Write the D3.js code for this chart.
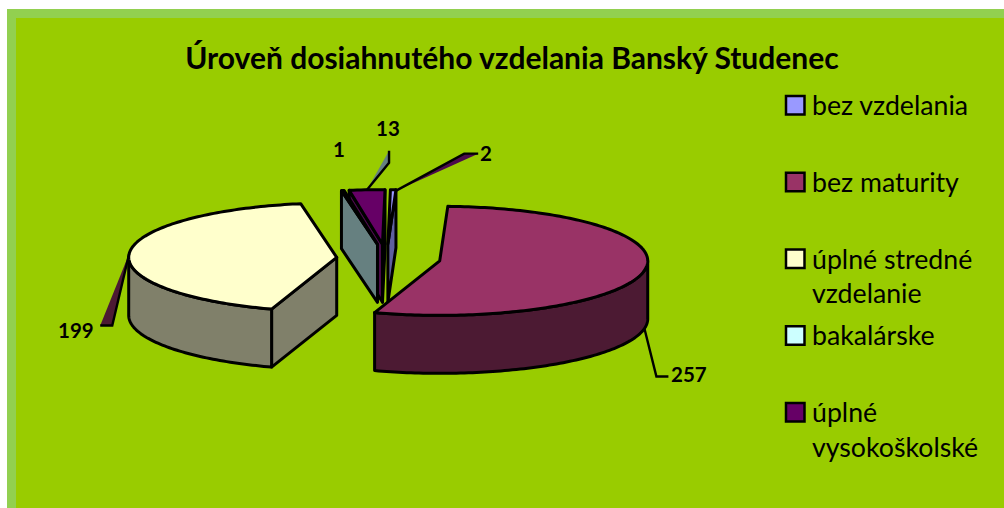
<!DOCTYPE html>
<html lang="sk">
<head>
    <meta charset="UTF-8">
    <title>Úroveň dosiahnutého vzdelania Banský Studenec</title>
    <script src="https://d3js.org/d3.v7.min.js"></script>
    <style>
        html, body { margin: 0; padding: 0; background: #fff; }
        svg { display: block; }
        text { font-family: Lato, "Open Sans", sans-serif; fill: #000; }
        .title { font-size: 30px; font-weight: 700; text-anchor: middle; }
        .legend-text { font-size: 26.7px; }
        .value { font-size: 20.5px; font-weight: 700; }
        .mark { stroke: #000; stroke-width: 3; stroke-linejoin: round; }
    </style>
</head>
<body>
    <div id="chart"></div>
    <script>
        // Data
        const title = "Úroveň dosiahnutého vzdelania Banský Studenec";
        const categories = ["bez vzdelania", "bez maturity", "úplné stredné vzdelanie", "bakalárske", "úplné vysokoškolské"];
        const values = [2, 257, 199, 1, 13];
        const topColors = ["#9999ff", "#993366", "#ffffcc", "#ccffff", "#660066"];
        const sideColors = ["#5f5f9f", "#4c1a33", "#80806a", "#668080", "#4c0a4c"];

        const width = 1004, height = 508;
        const center = { x: 386.5, y: 258.3 };
        const rx = 208, ry = 54.5, depth = 58;
        const explode = [0.26, 0.26, 0.24, 0.26, 0.26];
        const drawOrder = [0, 4, 3, 2, 1];

        const svg = d3.select("#chart").append("svg")
            .attr("width", width)
            .attr("height", height);

        // page frame
        svg.append("rect").attr("x", 7).attr("y", 9).attr("width", width).attr("height", height).attr("fill", "#92d050");
        svg.append("rect").attr("x", 16).attr("y", 18).attr("width", width).attr("height", height).attr("fill", "#99cc00");

        svg.append("text").attr("class", "title").attr("x", 512).attr("y", 69).text(title);

        // angles come from d3.pie, clockwise from the top
        const rotation = 0.7 * Math.PI / 180;
        const arcs = d3.pie().sort(null)
            .startAngle(rotation)
            .endAngle(rotation + 2 * Math.PI)(values);

        const line = d3.line().x(d => d[0]).y(d => d[1]);

        function sliceCenter(d) {
            const mid = (d.startAngle + d.endAngle) / 2;
            const e = explode[d.index];
            return [center.x + rx * e * Math.sin(mid), center.y - ry * e * Math.cos(mid)];
        }

        function rimPoint(d, angle, drop) {
            const c = sliceCenter(d);
            return [c[0] + rx * Math.sin(angle), c[1] - ry * Math.cos(angle) + (drop || 0)];
        }

        function arcPoints(d, from, to, drop) {
            const n = Math.max(2, Math.ceil((to - from) / 0.02));
            return d3.range(n + 1).map(i => rimPoint(d, from + (to - from) * i / n, drop));
        }

        function wall(d, angle) {
            const c = sliceCenter(d);
            const top = rimPoint(d, angle);
            return [c, top, [top[0], top[1] + depth], [c[0], c[1] + depth]];
        }

        const g = svg.append("g");

        drawOrder.forEach(i => {
            const d = arcs[i];
            const side = sideColors[i];
            const addSide = pts => g.append("path")
                .attr("class", "mark")
                .attr("fill", side)
                .attr("d", line(pts) + "Z");

            // radial walls facing the viewer
            if (Math.sin(d.startAngle) < 0) addSide(wall(d, d.startAngle));
            if (Math.sin(d.endAngle) > 0) addSide(wall(d, d.endAngle));

            // outer rim, only the front half shows
            const from = Math.max(d.startAngle, Math.PI / 2);
            const to = Math.min(d.endAngle, 3 * Math.PI / 2);
            if (to > from) {
                addSide(arcPoints(d, from, to, 0).concat(arcPoints(d, from, to, depth).reverse()));
            }

            // top face
            g.append("path")
                .attr("class", "mark")
                .attr("fill", topColors[i])
                .attr("d", line([sliceCenter(d)].concat(arcPoints(d, d.startAngle, d.endAngle, 0))) + "Z");
        });

        // value labels with their leader slivers
        const labelLayout = [
            { dx: 3, dy: 1, elbow: [68, -37], end: [82, -37], x: 480, y: 161, fill: "#4c0a4c" },
            { dx: 0, dy: 0, elbow: [12, 48], end: [24, 48], x: 671, y: 382, fill: "none" },
            { dx: 0, dy: 0, elbow: [-17, 72], end: [-29, 72], x: 58, y: 338, fill: "#4c1a33" },
            { x: 333, y: 157 },
            { dx: 0, dy: 0, elbow: [22, -27], end: [22, -39], x: 376, y: 136, fill: "#668080" }
        ];

        arcs.forEach(d => {
            const l = labelLayout[d.index];
            if (l.elbow) {
                const mid = (d.startAngle + d.endAngle) / 2;
                const dropped = Math.cos(mid) < 0 ? depth : 0;
                const p = rimPoint(d, mid, dropped);
                p[0] += l.dx;
                p[1] += l.dy;
                svg.append("path")
                    .attr("d", line([p, [p[0] + l.elbow[0], p[1] + l.elbow[1]], [p[0] + l.end[0], p[1] + l.end[1]]]))
                    .attr("fill", l.fill)
                    .attr("stroke", "#000")
                    .attr("stroke-width", 2.4);
            }
            svg.append("text").attr("class", "value").attr("x", l.x).attr("y", l.y).text(d.value);
        });

        // legend
        const legendY = d3.scaleLinear().domain([0, categories.length - 1]).range([96, 403]);
        const legend = svg.append("g");

        categories.forEach((name, i) => {
            const y = legendY(i);
            legend.append("rect")
                .attr("x", 786).attr("y", y)
                .attr("width", 18.5).attr("height", 18.5)
                .attr("fill", topColors[i])
                .attr("stroke", "#000")
                .attr("stroke-width", 2.5);

            // wrap long names
            const text = legend.append("text").attr("class", "legend-text").attr("x", 812).attr("y", y + 19);
            let current = [];
            let tspan = text.append("tspan").attr("x", 812).attr("dy", 0);
            name.split(" ").forEach(word => {
                current.push(word);
                tspan.text(current.join(" "));
                if (tspan.node().getComputedTextLength() > 175 && current.length > 1) {
                    current.pop();
                    tspan.text(current.join(" "));
                    current = [word];
                    tspan = text.append("tspan").attr("x", 812).attr("dy", 34.5).text(word);
                }
            });
        });
    </script>
</body>
</html>
